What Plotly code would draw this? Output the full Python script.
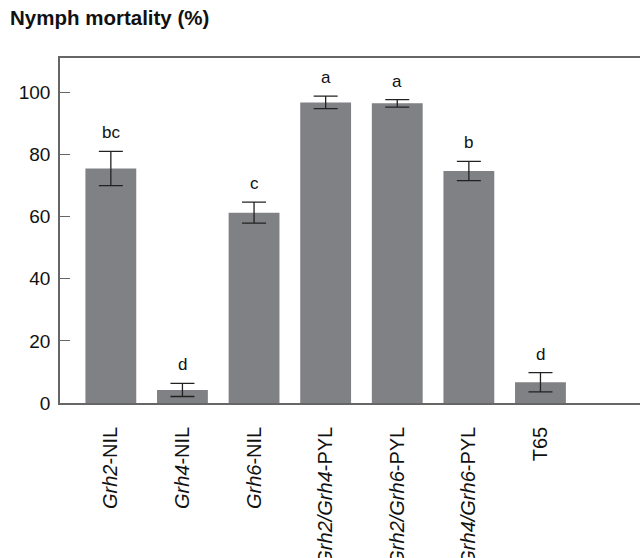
import plotly.graph_objects as go

categories = ["<i>Grh2</i>-NIL", "<i>Grh4</i>-NIL", "<i>Grh6</i>-NIL",
              "<i>Grh2/Grh4</i>-PYL", "<i>Grh2/Grh6</i>-PYL", "<i>Grh4/Grh6</i>-PYL", "T65"]
mortality = [75.5, 4.2, 61.3, 96.8, 96.5, 74.7, 6.7]
errors = [5.5, 2.1, 3.4, 2.0, 1.2, 3.1, 3.1]
letters = ["bc", "d", "c", "a", "a", "b", "d"]
y_ticks = [0, 20, 40, 60, 80, 100]

FONT = "Liberation Sans, Arial, sans-serif"

fig = go.Figure()
fig.add_trace(go.Bar(
    x=categories, y=mortality,
    marker=dict(color="rgb(128,129,133)", line=dict(width=0)),
    error_y=dict(type="data", array=errors, color="#222", thickness=1.3, width=12),
))

for c, m, e, t in zip(categories, mortality, errors, letters):
    fig.add_annotation(x=c, y=m + e, text=t, showarrow=False, yanchor="bottom",
                       yshift=7, font=dict(family=FONT, size=17, color="#111"))

fig.add_annotation(x=-52/580, y=1 + 40/345, xref="paper", yref="paper",
                   xanchor="left", yanchor="middle",
                   text="<b>Nymph mortality (%)</b>", showarrow=False,
                   font=dict(family=FONT, size=20.5, color="#111"))

fig.update_layout(
    width=640, height=558,
    margin=dict(l=60, r=0, t=58, b=155),
    plot_bgcolor="white", paper_bgcolor="white",
    showlegend=False, bargap=0.29,
    font=dict(family=FONT, color="#111"),
)

fig.update_xaxes(
    range=[-0.71, 7.39], showline=True, linecolor="#666", linewidth=1.5, mirror=True,
    ticks="", tickangle=-90, tickfont=dict(family=FONT, size=20, color="#111"),
    showgrid=False, zeroline=False, ticklabelstandoff=14, automargin=False,
)
fig.update_yaxes(
    range=[0, 111.1], tickvals=y_ticks, showline=True, linecolor="#666", linewidth=1.5,
    ticks="inside", ticklen=10, tickcolor="#666", tickwidth=1.2,
    tickfont=dict(family=FONT, size=19, color="#111"),
    showgrid=False, zeroline=False, ticklabelstandoff=4, automargin=False,
)

fig.write_html("out.html", config={"displayModeBar": False},
               post_script="document.body.style.margin='0';document.body.style.overflow='hidden';")
